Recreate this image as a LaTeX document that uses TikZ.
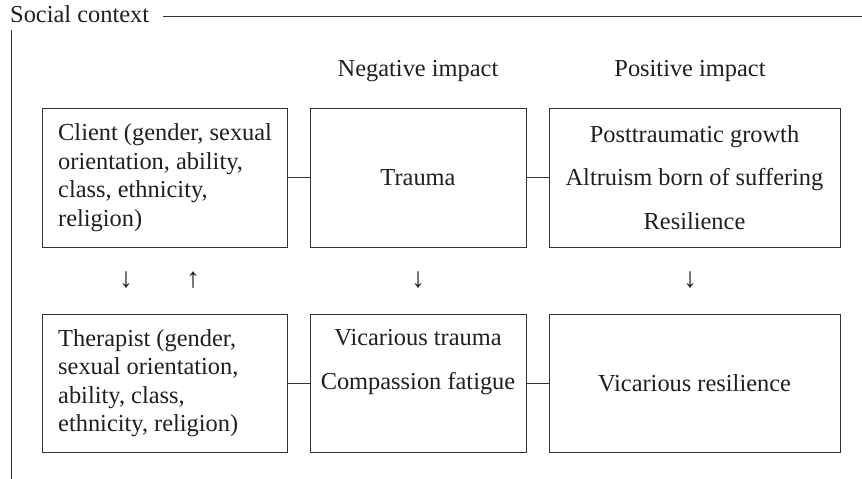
\documentclass[tikz,border=0pt]{standalone}
\usepackage{fontspec}
\setmainfont{Liberation Serif}
\begin{document}
\begin{tikzpicture}[x=1pt,y=-1pt,
  every node/.style={text=black!88, font=\fontsize{24.4}{28.5}\selectfont},
  box/.style={draw=black!80, line width=1pt, minimum height=139pt, inner sep=0pt},
  lefttext/.style={anchor=west, align=left, inner sep=0pt},
  cbox/.style={box, align=center},
  link/.style={draw=black!80, line width=1pt},
  frame/.style={draw=black!80, line width=1pt},
  glyph/.style={inner sep=0pt, font=\fontsize{28}{28}\selectfont}]
\useasboundingbox (0,0) rectangle (862,479);

% social context frame
\node[anchor=base west, inner sep=0pt] (sc) at (10,23) {Social context};
\coordinate (tl) at (163,16);
\coordinate (tr) at (862,16);
\coordinate (vt) at (11,30);
\coordinate (vb) at (11,479);
\draw[frame] (tl) -- (tr);
\draw[frame] (vt) -- (vb);

% headings
\node (neg) at (418,71) {Negative impact};
\node (pos) at (690,71) {Positive impact};

% top row
\node[box, minimum width=245pt] (client) at (164.5,177.5) {};
\node[lefttext] (clienttext) at (58,177.5) {Client (gender, sexual\\orientation, ability,\\class, ethnicity,\\religion)};
\node[cbox, minimum width=216pt] (trauma) at (418,177.5) {Trauma};
\node[cbox, minimum width=291pt, font=\fontsize{24.4}{43.5}\selectfont] (posbox) at (694.5,177.5) {Posttraumatic growth\\Altruism born of suffering\\Resilience};

% bottom row
\node[box, minimum width=245pt, minimum height=138pt] (therapist) at (164.5,383) {};
\node[lefttext] (therapisttext) at (58,383) {Therapist (gender,\\sexual orientation,\\ability, class,\\ethnicity, religion)};
\node[box, minimum width=216pt, minimum height=138pt] (vic) at (418,383) {};
\node[align=center, font=\fontsize{24.4}{43.5}\selectfont] (victext) at (418,362) {Vicarious trauma\\Compassion fatigue};
\node[cbox, minimum width=291pt, minimum height=138pt] (vres) at (694.5,383) {Vicarious resilience};

% connectors
\draw[link] (client.east) -- (trauma.west);
\draw[link] (trauma.east) -- (posbox.west);
\draw[link] (therapist.east) -- (vic.west);
\draw[link] (vic.east) -- (vres.west);

% arrow glyphs
\node[glyph] (a1) at (126,280) {↓};
\node[glyph] (a2) at (193,280) {↑};
\node[glyph] (a3) at (418,280) {↓};
\node[glyph] (a4) at (690,280) {↓};
\end{tikzpicture}
\end{document}
